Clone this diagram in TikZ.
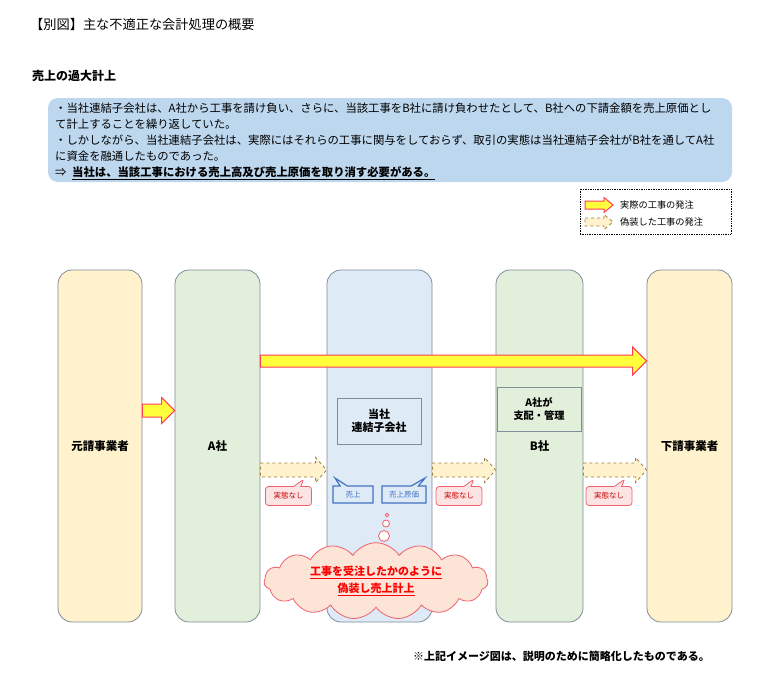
\documentclass[tikz,border=0pt]{standalone}
\usepackage{fontspec}
\setmainfont{Noto Sans CJK JP}
\usetikzlibrary{calc,shapes.callouts,shapes.symbols}

\definecolor{notebg}{HTML}{BDD7EE}
\definecolor{creamfill}{HTML}{FFF2CC}
\definecolor{greenfill}{HTML}{E2EFDA}
\definecolor{bluefill}{HTML}{DEEAF6}
\definecolor{colline}{HTML}{7F8C99}
\definecolor{realred}{HTML}{FF3B5C}
\definecolor{realyel}{HTML}{FFFF3B}
\definecolor{fakeline}{HTML}{9C8040}
\definecolor{pinkfill}{HTML}{FCE4E4}
\definecolor{pinkline}{HTML}{F0606E}
\definecolor{calloutblue}{HTML}{4472C4}
\definecolor{cloudfill}{HTML}{FCE4D6}

\newcommand{\fs}[1]{\fontsize{#1}{#1}\selectfont}

% block arrow: style, tail, tip, shaft half, head half, head length
\newcommand{\blockarrow}[6]{%
  \draw[#1] let \p1=#2, \p2=#3 in
    (\x1,\y1+#4pt) -- (\x2-#6pt,\y1+#4pt) -- (\x2-#6pt,\y1+#5pt) -- (\x2,\y1)
    -- (\x2-#6pt,\y1-#5pt) -- (\x2-#6pt,\y1-#4pt) -- (\x1,\y1-#4pt) -- cycle;}

\tikzset{
  col/.style={draw=colline, line width=0.8pt, rounded corners=14pt, inner sep=0pt,
    minimum height=352pt, font=\fs{11.5}\bfseries},
  innerbox/.style={draw=colline, line width=0.6pt, inner sep=0pt, align=center,
    font=\fs{11}\bfseries},
  realarrow/.style={draw=realred, fill=realyel, line width=1pt, line join=miter},
  fakearrow/.style={draw=fakeline, fill=creamfill, line width=0.8pt, dashed},
  nofact/.style={rectangle callout, rounded corners=3pt, draw=pinkline, fill=pinkfill,
    line width=0.8pt, text=red!80!black, font=\fs{7.5}, minimum width=46pt,
    minimum height=19pt, inner sep=0pt},
  booked/.style={rectangle callout, draw=calloutblue, fill=bluefill, line width=1.2pt,
    text=calloutblue, font=\fs{7.5}, minimum height=17pt, inner sep=0pt},
  bubble/.style={circle, draw=pinkline, fill=white, line width=0.8pt, inner sep=0pt}
}

\begin{document}
\begin{tikzpicture}[x=1pt,y=-1pt]
  \useasboundingbox (0,0) rectangle (784,688);

  % headings
  \node[anchor=west, inner sep=0pt, font=\fs{13.2}] (title) at (30,24) {【別図】主な不適正な会計処理の概要};
  \node[anchor=west, inner sep=0pt, font=\fs{12}\bfseries] (heading) at (32,76) {売上の過大計上};

  % summary box
  \node[fill=notebg, rounded corners=10pt, minimum width=684pt, minimum height=84pt,
        inner sep=0pt] (note) at (390,140) {};
  \node[anchor=north west, inner sep=0pt, align=left,
        font=\fontsize{11.35}{16}\selectfont] (notetext) at (55,103)
    {・当社連結子会社は、A社から工事を請け負い、さらに、当該工事をB社に請け負わせたとして、B社への下請金額を売上原価とし\\
     て計上することを繰り返していた。\\
     ・しかしながら、当社連結子会社は、実際にはそれらの工事に関与をしておらず、取引の実態は当社連結子会社がB社を通してA社\\
     に資金を融通したものであった。\\
     ⇒\enspace\underline{\bfseries 当社は、当該工事における売上高及び売上原価を取り消す必要がある。}};

  % legend
  \node[draw, densely dotted, line width=0.7pt, minimum width=151pt, minimum height=45pt,
        inner sep=0pt] (legend) at (655.5,211.5) {};
  \blockarrow{realarrow}{(585,205)}{(613,205)}{4}{7.5}{9}
  \blockarrow{fakearrow}{(585,222)}{(613,222)}{4}{7.5}{9}
  \node[anchor=west, inner sep=0pt, font=\fs{9.2}] (legreal) at (620,205) {実際の工事の発注};
  \node[anchor=west, inner sep=0pt, font=\fs{9.2}] (legfake) at (620,222) {偽装した工事の発注};

  % columns
  \node[col, fill=creamfill, minimum width=84pt] (genuke) at (100,446) {元請事業者};
  \node[col, fill=greenfill, minimum width=85pt] (ashaa) at (217.5,446) {A社};
  \node[col, fill=bluefill, minimum width=105pt] (renketsu) at (379.5,446) {};
  \node[col, fill=greenfill, minimum width=87pt] (bshaa) at (539.5,446) {B社};
  \node[col, fill=creamfill, minimum width=85pt] (shita) at (689.5,446) {下請事業者};

  \node[innerbox, fill=bluefill, minimum width=84pt, minimum height=46pt] (tosha) at (379,421) {当社\\[2pt]連結子会社};
  \node[innerbox, fill=greenfill, minimum width=84pt, minimum height=44pt, font=\fs{10.2}\bfseries] (shihai) at (539,409) {A社が\\[3pt]支配・管理};

  % real orders
  \blockarrow{realarrow}{(ashaa.east |- 0,361)}{(shita.west |- 0,361)}{6}{14}{14}
  \blockarrow{realarrow}{(genuke.east |- 0,410.5)}{(ashaa.west |- 0,410.5)}{6.5}{13}{13}

  % disguised orders
  \blockarrow{fakearrow}{(ashaa.east |- 0,470)}{(renketsu.west |- 0,470)}{7}{12.5}{11}
  \blockarrow{fakearrow}{(renketsu.east |- 0,470)}{(bshaa.west |- 0,470)}{7}{12.5}{11}
  \blockarrow{fakearrow}{(bshaa.east |- 0,470)}{(shita.west |- 0,470)}{7}{12.5}{11}

  % callouts
  \node[nofact, callout absolute pointer={(304,479)}] (nofact1) at (288.5,496) {実態なし};
  \node[nofact, callout absolute pointer={(474,479)}] (nofact2) at (459,496) {実態なし};
  \node[nofact, callout absolute pointer={(625,479)}] (nofact3) at (609,496) {実態なし};
  \node[booked, minimum width=40pt, callout absolute pointer={(335,478)}] (sales) at (353,494.5) {売上};
  \node[booked, minimum width=44pt, callout absolute pointer={(425,478)}] (cost) at (404,494.5) {売上原価};

  % thought bubbles and cloud
  \node[bubble, minimum size=3.5pt] (dot1) at (387,515) {};
  \node[bubble, minimum size=7pt] (dot2) at (386,523.5) {};
  \node[bubble, minimum size=11pt] (dot3) at (384,536) {};
  \node[cloud, cloud puffs=15, cloud puff arc=115, aspect=3.3, draw=pinkline, fill=cloudfill,
        line width=0.8pt, minimum width=224pt, minimum height=68pt, inner sep=0pt,
        align=center, text=red, font=\fs{11}\bfseries] (cloud) at (376,581)
    {\underline{工事を受注したかのように}\\[3pt]\underline{偽装し売上計上}};

  % footnote
  \node[anchor=west, inner sep=0pt, font=\fs{11}\bfseries] (footnote) at (413,656) {※上記イメージ図は、説明のために簡略化したものである。};
\end{tikzpicture}
\end{document}
